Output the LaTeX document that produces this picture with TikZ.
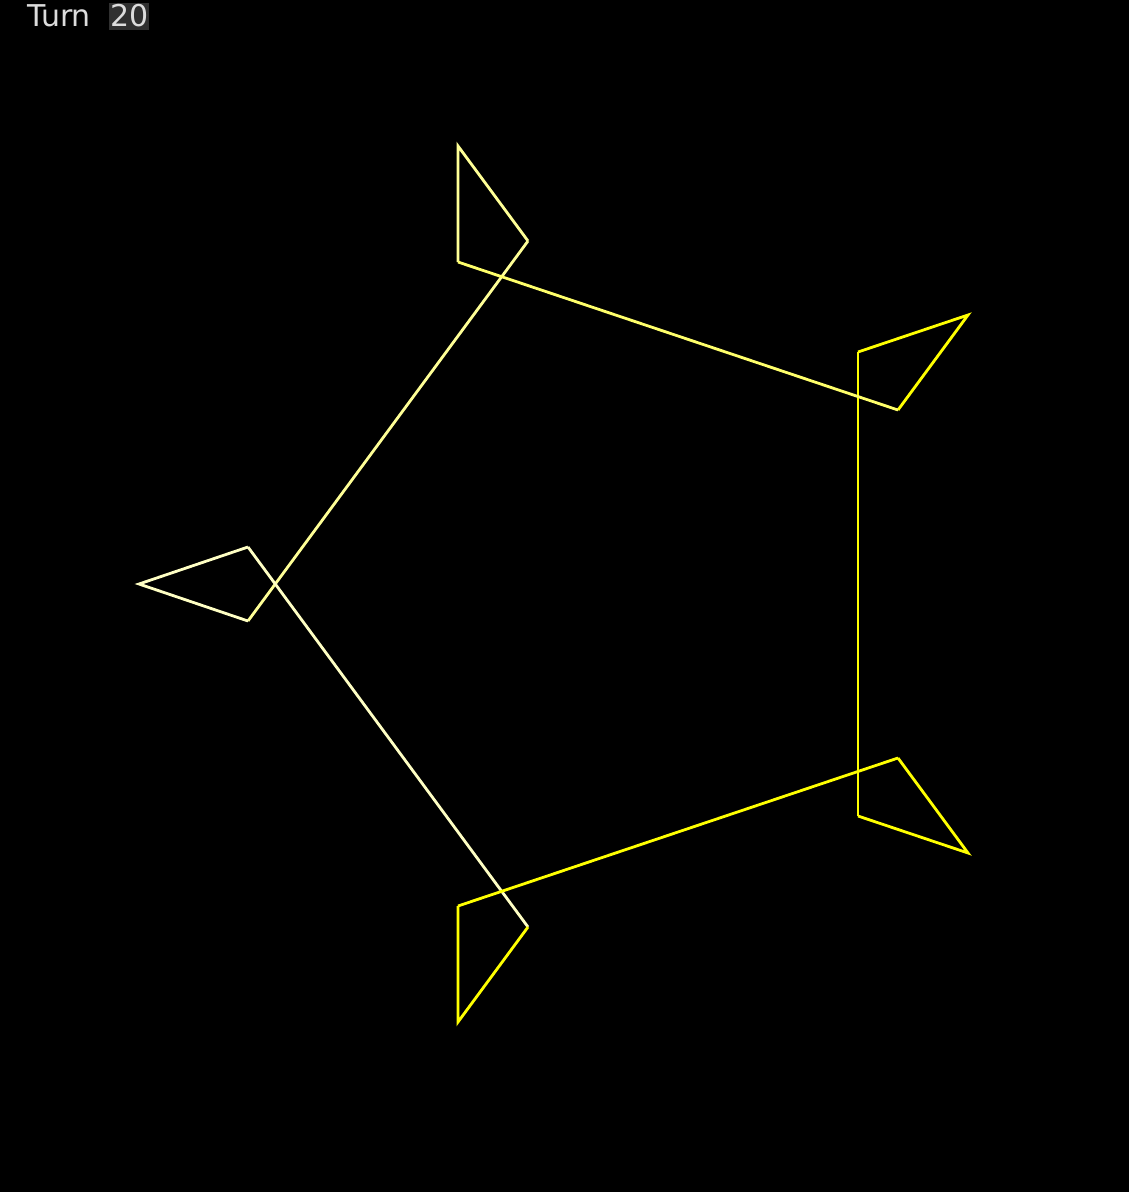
\documentclass[tikz,border=0pt]{standalone}
\usepackage{fontspec}
\setmainfont{DejaVu Sans}
\usepackage{xcolor}
\usepackage{tikz}
\usetikzlibrary{positioning}

\definecolor{paleyel}{HTML}{FFFFC4}
\definecolor{softyel}{HTML}{FFFF96}
\definecolor{midyel}{HTML}{FFFF6A}
\definecolor{fullyel}{HTML}{FFFF00}
\definecolor{hudgray}{HTML}{DCDCDC}
\definecolor{hudbox}{HTML}{303030}

\begin{document}
\begin{tikzpicture}[
    x=1pt, y=-1pt,
    % Global styles
    line join=miter,
    % Line styles
    wire/.style={draw=#1, line width=2.8pt},
    hudtext/.style={font=\fontsize{30}{35}\selectfont, text=hudgray, inner sep=0pt, anchor=base west},
  ]

  % ====================================================================
  % BACKGROUND
  % ====================================================================
  \fill[black] (0,0) rectangle (1129,1192);
  \useasboundingbox (0,0) rectangle (1129,1192);

  % ====================================================================
  % HUD — turn counter
  % ====================================================================
  \fill[hudbox] (109,3) rectangle (149,30);
  \node[hudtext] (turnlbl) at (27,26) {Turn};
  \node[hudtext] (turnnum) at (110,26) {20};

  % ====================================================================
  % KITE CORNERS
  % ====================================================================
  % Top
  \coordinate (tT) at (458,146);
  \coordinate (tA) at (528,241);
  \coordinate (tB) at (458,262);
  % Right-top
  \coordinate (rtT) at (968,315);
  \coordinate (rtA) at (858,352);
  \coordinate (rtB) at (898,410);
  % Right-bottom
  \coordinate (rbT) at (968,853);
  \coordinate (rbA) at (898,758);
  \coordinate (rbB) at (858,816);
  % Bottom
  \coordinate (bT) at (458,1022);
  \coordinate (bA) at (458,906);
  \coordinate (bB) at (528,927);
  % Left
  \coordinate (lT) at (139,584);
  \coordinate (lA) at (248,547);
  \coordinate (lB) at (248,621);

  % ====================================================================
  % OUTLINE
  % ====================================================================
  % Top kite
  \draw[wire=softyel] (tA) -- (tT) -- (tB);
  \draw[wire=softyel] (tA) -- (lB);

  % Left kite
  \draw[wire=paleyel] (lB) -- (lT) -- (lA);
  \draw[wire=paleyel] (lA) -- (bB);

  % Bottom kite
  \draw[wire=fullyel] (bB) -- (bT) -- (bA);
  \draw[wire=fullyel] (bA) -- (rbA);

  % Right-bottom kite
  \draw[wire=fullyel] (rbA) -- (rbT) -- (rbB);
  \draw[wire=fullyel] (rbB) -- (rtA);

  % Right-top kite
  \draw[wire=fullyel] (rtA) -- (rtT) -- (rtB);
  \draw[wire=midyel] (rtB) -- (tB);

\end{tikzpicture}
\end{document}
